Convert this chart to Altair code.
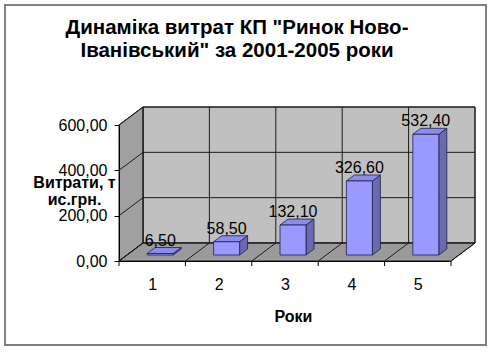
import altair as alt
import pandas as pd

# ---- data -------------------------------------------------------------
years = [1, 2, 3, 4, 5]
values = [6.50, 58.50, 132.10, 326.60, 532.40]
value_labels = ["6,50", "58,50", "132,10", "326,60", "532,40"]
y_ticks = [0, 200, 400, 600]

TITLE = ['Динаміка витрат КП "Ринок Ново-', 'Іванівський" за 2001-2005 роки']
Y_TITLE = ["Витрати, т", "ис.грн."]
X_TITLE = "Роки"

# ---- geometry (pixels / data units) -----------------------------------
W, H = 332, 136
X_MIN, X_MAX = 0.5, 5.5
Y_MAX = 600
PX_X = W / (X_MAX - X_MIN)       # px per category
PX_Y = H / Y_MAX                 # px per unit
DX = 24 / PX_X                   # wall depth in x units
DY = 18 / PX_Y                   # wall depth in y units
FX, FY = DX / 3, DY / 3          # bar front offset
BX, BY = 2 * DX / 3, 2 * DY / 3  # bar back offset
HALF = 13 / PX_X                 # half bar width

FONT = "Liberation Sans"

xs = alt.Scale(domain=[X_MIN, X_MAX], nice=False, zero=False)
ys = alt.Scale(domain=[0, Y_MAX], nice=False, zero=False)

# ---- tables built from the arrays --------------------------------------
bars = pd.DataFrame({"c": years, "v": values, "lab": value_labels})
bars["x0"] = bars.c + FX - HALF
bars["x1"] = bars.c + FX + HALF
bars["y0"] = FY
bars["y1"] = bars.v + FY
bars["tx"] = bars.c + FX
bars["ty"] = bars.v + BY

side_rows, top_rows = [], []
for c, v in zip(years, values):
    side_rows.append({"g": c, "x": c + FX + HALF, "lo": FY, "hi": v + FY})
    side_rows.append({"g": c, "x": c + BX + HALF, "lo": BY, "hi": v + BY})
    top_rows.append({"g": c, "y": v + FY, "l": c + FX - HALF, "r": c + FX + HALF})
    top_rows.append({"g": c, "y": v + BY, "l": c + BX - HALF, "r": c + BX + HALF})
side = pd.DataFrame(side_rows)
top = pd.DataFrame(top_rows)

bounds = [X_MIN + k for k in range(len(years) + 1)]
vgrid = pd.DataFrame({"x": [b + DX for b in bounds], "ya": DY, "yb": Y_MAX + DY})
hgrid = pd.DataFrame({"y": [t + DY for t in y_ticks], "xa": X_MIN + DX, "xb": X_MAX + DX})
floor_diag = pd.DataFrame({"x": bounds, "x2": [b + DX for b in bounds], "ya": 0.0, "yb": DY})
wall_diag = pd.DataFrame({"y": y_ticks, "y2": [t + DY for t in y_ticks], "xa": X_MIN, "xb": X_MIN + DX})
back = pd.DataFrame({"x": [X_MIN + DX], "x2": [X_MAX + DX], "y": [DY], "y2": [Y_MAX + DY]})
left = pd.DataFrame({"g": [0, 0], "x": [X_MIN, X_MIN + DX], "lo": [0, DY], "hi": [Y_MAX, Y_MAX + DY]})
floor = pd.DataFrame({"g": [0, 0], "y": [0, DY], "l": [X_MIN, X_MIN + DX], "r": [X_MAX, X_MAX + DX]})
xt = pd.DataFrame({"x": bounds})
one = pd.DataFrame({"a": [0]})

LINE = "#1a1a1a"

x_axis = alt.Axis(values=years, ticks=False, grid=False, domainColor="#000",
                  labelFont=FONT, labelFontSize=16, labelColor="#000",
                  labelPadding=15, title=X_TITLE, titleFont=FONT, titleFontSize=16,
                  titleFontWeight="bold", titleColor="#000", titleX=174, titleY=60,
                  titleBaseline="alphabetic", titleAlign="center", zindex=2)
y_axis = alt.Axis(values=y_ticks, grid=False, domainColor="#000", tickColor="#000",
                  tickSize=5, labelFont=FONT, labelFontSize=16, labelColor="#000",
                  labelPadding=7,
                  labelExpr="replace(format(datum.value, '.2f'), '.', ',')",
                  title=Y_TITLE, titleFont=FONT, titleFontSize=16, titleFontWeight="bold",
                  titleColor="#000", titleAngle=0, titleAlign="center",
                  titleBaseline="alphabetic", titleX=-45, titleY=62, titleLineHeight=17,
                  zindex=2)


def X(f):
    return alt.X(f, type="quantitative", scale=xs, axis=x_axis)


def Y(f):
    return alt.Y(f, type="quantitative", scale=ys, axis=y_axis)


back_l = alt.Chart(back).mark_rect(fill="#c0c0c0", stroke=LINE, strokeWidth=1).encode(
    x=X("x"), x2="x2", y=Y("y"), y2="y2")

left_l = alt.Chart(left).mark_area(color="#a0a0a0", stroke=LINE, strokeWidth=1).encode(
    x=X("x"), y=Y("lo"), y2="hi", detail="g:N")

floor_l = alt.Chart(floor).mark_area(orient="horizontal", color="#9a9a9a", stroke=LINE,
                                     strokeWidth=1).encode(
    y=Y("y"), x=X("l"), x2="r", detail="g:N")

vgrid_l = alt.Chart(vgrid).mark_rule(color=LINE, strokeWidth=1).encode(
    x=X("x"), y=Y("ya"), y2="yb")

hgrid_l = alt.Chart(hgrid).mark_rule(color=LINE, strokeWidth=1).encode(
    y=Y("y"), x=X("xa"), x2="xb")

floor_diag_l = alt.Chart(floor_diag).mark_rule(color=LINE, strokeWidth=1).encode(
    x=X("x"), x2="x2", y=Y("ya"), y2="yb")

wall_diag_l = alt.Chart(wall_diag).mark_rule(color=LINE, strokeWidth=1).encode(
    y=Y("y"), y2="y2", x=X("xa"), x2="xb")

xticks_l = alt.Chart(xt).mark_rule(color="#000").encode(
    x=X("x"), y=alt.value(H), y2=alt.value(H + 5))

side_l = alt.Chart(side).mark_area(color="#6a6ab0", stroke="#202048", strokeWidth=0.8).encode(
    x=X("x"), y=Y("lo"), y2="hi", detail="g:N")

top_l = alt.Chart(top).mark_area(orient="horizontal", color="#8c8cf0", stroke="#202048",
                                 strokeWidth=0.8).encode(
    y=Y("y"), x=X("l"), x2="r", detail="g:N")

front_l = alt.Chart(bars).mark_rect(fill="#9999ff", stroke="#202048", strokeWidth=0.8).encode(
    x=X("x0"), x2="x1", y=Y("y0"), y2="y1")

text_l = alt.Chart(bars).mark_text(font=FONT, fontSize=16, color="#000",
                                   baseline="alphabetic", dy=-2).encode(
    x=X("tx"), y=Y("ty"), text="lab:N")

title_l = alt.Chart(one).mark_text(text=TITLE, font=FONT, fontSize=20.5, fontWeight="bold",
                                   color="#000", align="center", baseline="alphabetic",
                                   lineHeight=22.5).encode(
    x=alt.value(237 - 119), y=alt.value(34 - 125))

border_l = alt.Chart(one).mark_rect(fill=None, stroke="#808080", strokeWidth=2).encode(
    x=alt.value(5 - 119), x2=alt.value(486 - 119),
    y=alt.value(5 - 125), y2=alt.value(345 - 125))

chart = alt.layer(
    back_l, left_l, floor_l, vgrid_l, hgrid_l, floor_diag_l, wall_diag_l, xticks_l,
    side_l, top_l, front_l, text_l, title_l, border_l
).properties(
    width=W, height=H,
    autosize=alt.AutoSizeParams(type="none"),
    padding={"left": 119, "top": 125, "right": 493 - 119 - W, "bottom": 352 - 125 - H},
    background="white",
).configure_view(stroke=None)

chart.save("out.html", embed_options={"renderer": "svg", "actions": False})
